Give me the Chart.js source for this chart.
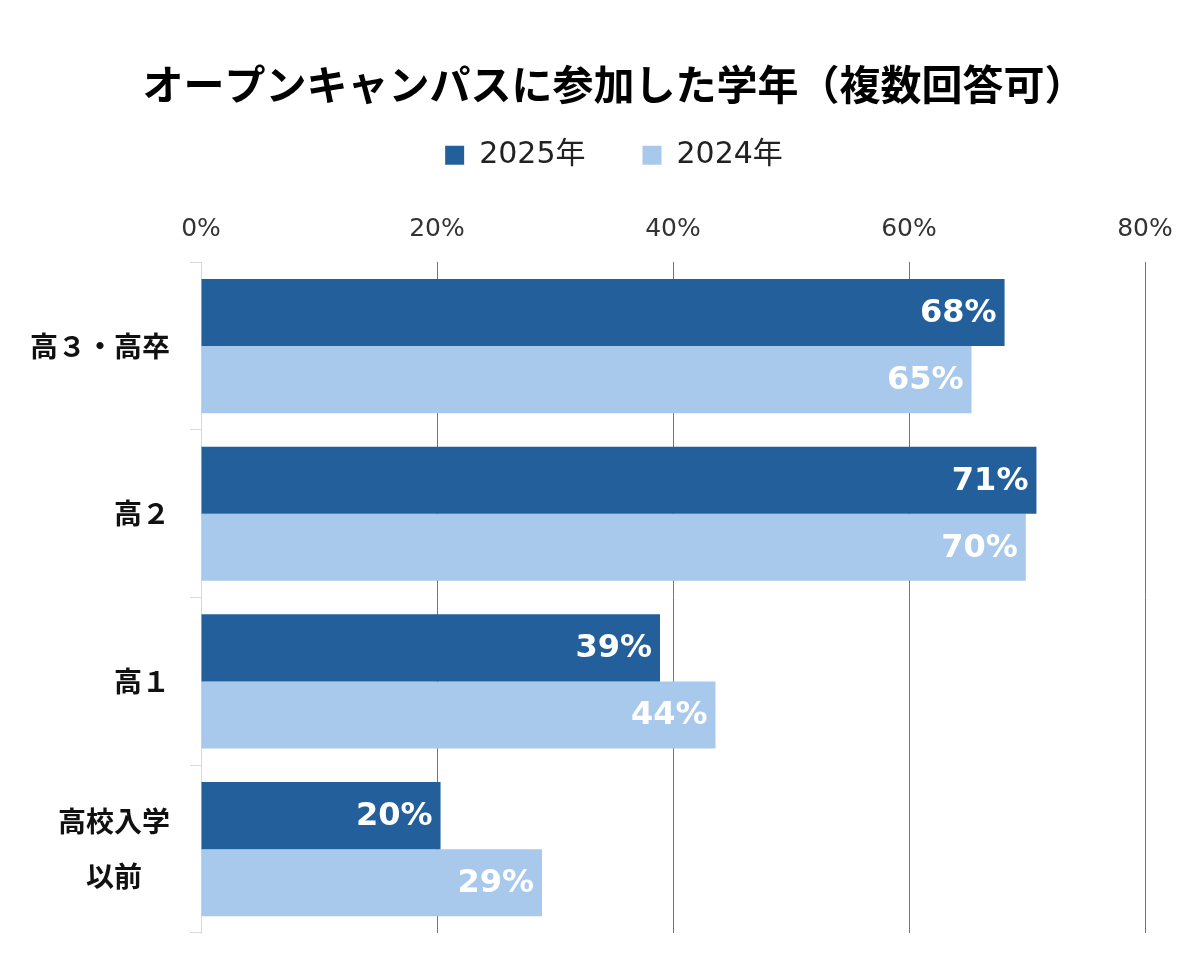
<!DOCTYPE html>
<html lang="ja">
<head>
<meta charset="UTF-8">
<title>オープンキャンパスに参加した学年</title>
<script src="https://cdn.jsdelivr.net/npm/chart.js@4.4.1/dist/chart.umd.min.js"></script>
<style>
    html, body { margin: 0; padding: 0; background: #ffffff; }
    #chartBox { width: 1200px; height: 968px; position: relative; }
</style>
</head>
<body>
<div id="chartBox"><canvas id="gradeChart"></canvas></div>
<script>
// Данные графика
const chartTitle = 'オープンキャンパスに参加した学年（複数回答可）';
const categories = ['高３・高卒', '高２', '高１', ['高校入学', '以前\u3000']];
const seriesNames = ['2025年', '2024年'];
const values2025 = [68.1, 70.8, 38.9, 20.3];
const values2024 = [65.3, 69.9, 43.6, 28.9];
const valueLabels2025 = ['68%', '71%', '39%', '20%'];
const valueLabels2024 = ['65%', '70%', '44%', '29%'];
const xTicks = [0, 20, 40, 60, 80];

const COLOR_2025 = '#235f9b';
const COLOR_2024 = '#a9c9ec';
const FONT = '"Noto Sans CJK JP", "Noto Sans", sans-serif';
const NUM_FONT = '"DejaVu Sans", "Noto Sans CJK JP", sans-serif';

let gradeChart = null;

// Подписи значений внутри столбцов
const barLabelPlugin = {
    id: 'barLabels',
    afterDatasetsDraw(chart) {
        const ctx = chart.ctx;
        const allLabels = [valueLabels2025, valueLabels2024];
        ctx.save();
        ctx.font = 'bold 32px ' + NUM_FONT;
        ctx.fillStyle = '#ffffff';
        ctx.textAlign = 'right';
        ctx.textBaseline = 'middle';
        chart.data.datasets.forEach((ds, i) => {
            const meta = chart.getDatasetMeta(i);
            meta.data.forEach((bar, j) => {
                ctx.fillText(allLabels[i][j], bar.x - 8, bar.y + 1);
            });
        });
        ctx.restore();
    }
};

function initGradeChart() {
    const ctx = document.getElementById('gradeChart').getContext('2d');

    if (gradeChart) {
        gradeChart.destroy();
    }

    gradeChart = new Chart(ctx, {
        type: 'bar',
        data: {
            labels: categories,
            datasets: [
                {
                    label: seriesNames[0],
                    data: values2025,
                    backgroundColor: COLOR_2025,
                    borderWidth: 0
                },
                {
                    label: seriesNames[1],
                    data: values2024,
                    backgroundColor: COLOR_2024,
                    borderWidth: 0
                }
            ]
        },
        options: {
            indexAxis: 'y',
            responsive: true,
            maintainAspectRatio: false,
            animation: false,
            layout: {
                padding: { top: 60, right: 0, bottom: 35, left: 28 }
            },
            datasets: {
                bar: {
                    categoryPercentage: 0.8,
                    barPercentage: 1.0
                }
            },
            scales: {
                x: {
                    position: 'top',
                    min: 0,
                    max: 80,
                    afterBuildTicks: (scale) => {
                        scale.ticks = xTicks.map(v => ({ value: v }));
                    },
                    afterFit: (scale) => {
                        scale.height = 82;
                        // место справа, чтобы 80% было на x=1145
                        scale.paddingRight = 55;
                    },
                    ticks: {
                        padding: 18,
                        color: '#333333',
                        font: { family: NUM_FONT, size: 25 },
                        callback: (v) => v + '%'
                    },
                    grid: {
                        drawTicks: false,
                        lineWidth: 1,
                        color: (c) => c.index === 0 ? '#d9d9d9' : '#6e7583'
                    },
                    border: { display: false }
                },
                y: {
                    afterFit: (scale) => {
                        // ширина оси так, чтобы 0% был на x=201
                        scale.width = 173;
                        scale.paddingTop = 0;
                        scale.paddingBottom = 0;
                    },
                    ticks: {
                        padding: 20,
                        color: '#111111',
                        font: { family: FONT, size: 28, weight: 'bold', lineHeight: 1.95 }
                    },
                    grid: {
                        offset: true,
                        drawOnChartArea: false,
                        tickLength: 11,
                        color: '#d9d9d9'
                    },
                    border: { display: true, color: '#d9d9d9' }
                }
            },
            plugins: {
                title: {
                    display: true,
                    text: chartTitle,
                    color: '#000000',
                    font: { family: FONT, size: 41, weight: 'bold' },
                    padding: { top: 0, bottom: -26 }
                },
                legend: {
                    position: 'top',
                    labels: {
                        color: '#222222',
                        font: { family: NUM_FONT, size: 30 },
                        boxWidth: 19,
                        boxHeight: 19,
                        padding: 57
                    }
                },
                tooltip: { enabled: false }
            }
        },
        plugins: [barLabelPlugin]
    });
}

document.addEventListener('DOMContentLoaded', () => {
    initGradeChart();
});
</script>
</body>
</html>
